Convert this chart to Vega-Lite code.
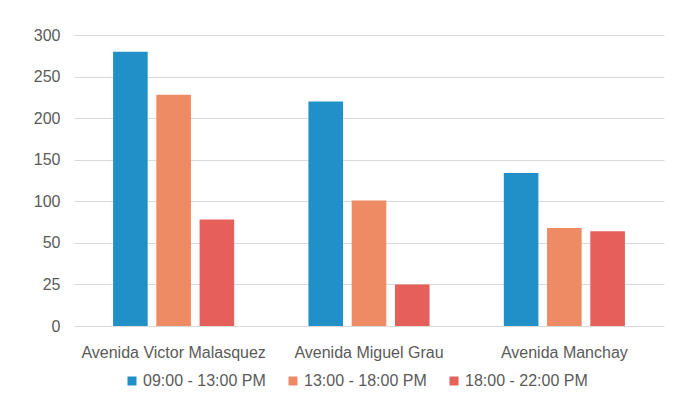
{
  "$schema": "https://vega.github.io/schema/vega-lite/v6.json",
  "width": 590,
  "height": 291,
  "autosize": "none",
  "padding": {"left": 74, "top": 35, "right": 20, "bottom": 72},
  "background": "white",
  "data": {
    "values": [
      {"avenida": "Avenida Victor Malasquez", "horario": "09:00 - 13:00 PM", "valor": 280},
      {"avenida": "Avenida Victor Malasquez", "horario": "13:00 - 18:00 PM", "valor": 228},
      {"avenida": "Avenida Victor Malasquez", "horario": "18:00 - 22:00 PM", "valor": 78},
      {"avenida": "Avenida Miguel Grau", "horario": "09:00 - 13:00 PM", "valor": 220},
      {"avenida": "Avenida Miguel Grau", "horario": "13:00 - 18:00 PM", "valor": 101},
      {"avenida": "Avenida Miguel Grau", "horario": "18:00 - 22:00 PM", "valor": 25},
      {"avenida": "Avenida Manchay", "horario": "09:00 - 13:00 PM", "valor": 134},
      {"avenida": "Avenida Manchay", "horario": "13:00 - 18:00 PM", "valor": 68},
      {"avenida": "Avenida Manchay", "horario": "18:00 - 22:00 PM", "valor": 64}
    ]
  },
  "mark": {"type": "bar"},
  "encoding": {
    "x": {
      "field": "avenida", "type": "nominal", "sort": null, "title": null,
      "scale": {"paddingInner": 0.38, "paddingOuter": 0.2},
      "axis": {"labelAngle": 0, "ticks": false, "domain": false, "labelPadding": 18, "labelFontSize": 16, "labelLimit": 400, "labelColor": "#5a5a5a", "labelFont": "Liberation Sans"}
    },
    "xOffset": {"field": "horario", "type": "nominal", "sort": null, "scale": {"paddingInner": 0.2}},
    "y": {
      "field": "valor", "type": "quantitative", "title": null,
      "scale": {"domain": [0, 25, 50, 300], "range": [291, 249.43, 207.86, 0], "nice": false, "zero": false},
      "axis": {"values": [0, 25, 50, 100, 150, 200, 250, 300], "ticks": false, "domain": false, "labelPadding": 14, "labelFontSize": 16, "labelColor": "#5a5a5a", "labelFont": "Liberation Sans", "gridColor": "#d9d9d9", "gridWidth": 1.2}
    },
    "color": {
      "field": "horario", "type": "nominal", "sort": null, "title": null,
      "scale": {"domain": ["09:00 - 13:00 PM", "13:00 - 18:00 PM", "18:00 - 22:00 PM"], "range": ["#2190C9", "#EE8A64", "#E5605A"]},
      "legend": {"orient": "none", "legendX": 50, "legendY": 338, "direction": "horizontal", "symbolType": "square", "symbolSize": 81, "symbolStrokeWidth": 0, "labelFontSize": 16, "labelColor": "#5a5a5a", "labelFont": "Liberation Sans", "columnPadding": 19, "labelOffset": 3}
    }
  },
  "config": {"view": {"stroke": null}}
}
